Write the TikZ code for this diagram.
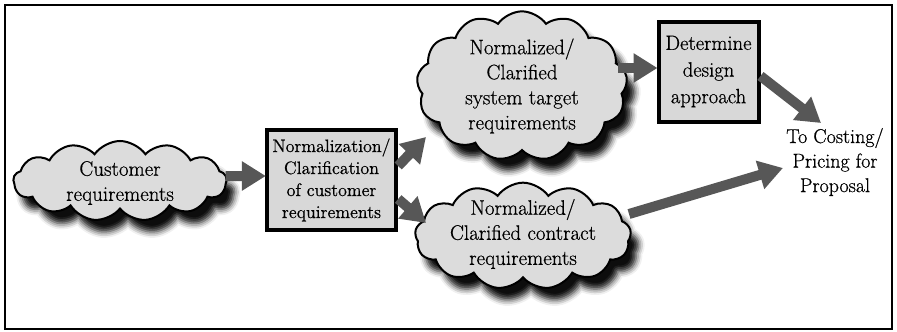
\documentclass[tikz,border=0pt]{standalone}
\usepackage{fontspec}
\setmainfont{Latin Modern Roman}[FakeBold=0.6]
\usetikzlibrary{shapes.symbols,shadows.blur,arrows.meta,calc}
\definecolor{arrowgray}{HTML}{575757}
\definecolor{cloudfill}{HTML}{DCDCDC}
\definecolor{boxfill}{HTML}{D8D8D8}
\begin{document}
\begin{tikzpicture}[x=0.75pt,y=-0.75pt,
  puff/.style={cloud, cloud puffs=13, cloud puff arc=110, cloud ignores aspect,
    draw=black, line width=1.5pt, fill=cloudfill, inner sep=0pt,
    blur shadow={shadow xshift=6pt, shadow yshift=-9pt, shadow blur radius=4.5pt, shadow opacity=95}},
  words/.style={align=center, font=\fontsize{15.7}{18.8}\selectfont},
  stepbox/.style={draw=black, line width=3pt, fill=boxfill, align=center, inner sep=0pt},
  flow/.style={draw=arrowgray, line width=7.5pt, -{Triangle[length=18pt,width=21pt]}}
]
\useasboundingbox (0,0) rectangle (897,332);
\draw[line width=2.2pt] (5,5) rectangle (892,329);

% clouds
\node[puff, minimum width=160pt, minimum height=60pt,
  label={[words, yshift=-1.5pt]center:Customer\\requirements}] (c1) at (120,181) {};
\node[puff, minimum width=158pt, minimum height=112pt,
  label={[words]center:Normalized/\\Clarified\\system target\\requirements}] (c2) at (522,86) {};
\node[puff, minimum width=162pt, minimum height=80pt,
  label={[words, yshift=1.5pt]center:Normalized/\\Clarified contract\\requirements}] (c3) at (523,236) {};

% process boxes
\node[stepbox, minimum width=97pt, minimum height=75pt,
  font=\fontsize{13.5}{16.5}\selectfont] (b1) at (331.5,180)
  {Normalization/\\Clarification\\of customer\\requirements};
\node[stepbox, minimum width=75pt, minimum height=75pt,
  font=\fontsize{15.5}{20}\selectfont] (b2) at (708.5,71.5)
  {Determine\\design\\approach};

% destination
\node[align=center, font=\fontsize{15}{18.4}\selectfont] (t) at (835,162)
  {To Costing/\\Pricing for\\Proposal};

% flows
\draw[flow] ($(c1.east)+(-2,-5)$) -- ($(b1.west)+(1,-4)$);
\draw[flow] ($(b1.east)+(0,-14)$) -- ($(c2.center)+(-96,51)$);
\draw[flow] ($(b1.east)+(0,19)$) -- ($(c3.center)+(-97,-13)$);
\draw[flow] ($(c2.center)+(96,-18)$) -- ($(b2.west)+(1,-3.5)$);
\draw[flow] ($(b2.east)+(0,4.5)$) -- ($(t.center)+(-14,-39)$);
\draw[flow] ($(c3.center)+(106,-22)$) -- ($(t.center)+(-52,6)$);
\end{tikzpicture}
\end{document}
